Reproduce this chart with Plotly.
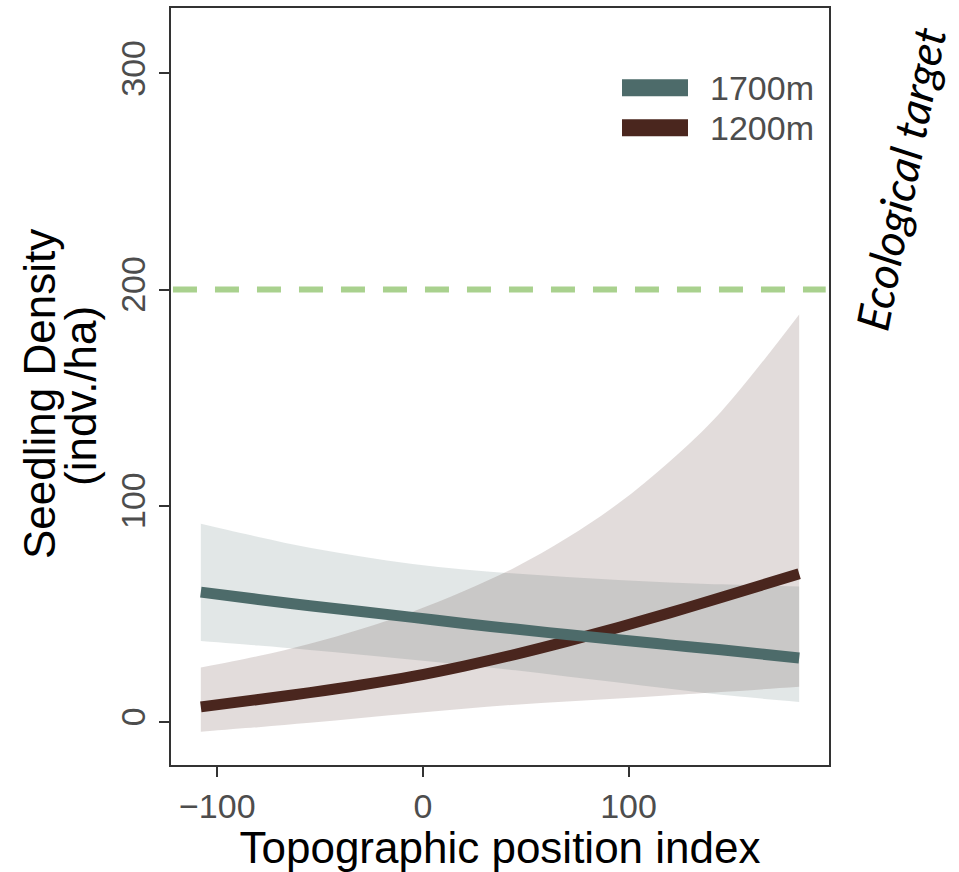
import plotly.graph_objects as go

# Topographic position index grid
tpi = [-108, -80, -55, -30, -5, 20, 45, 70, 95, 120, 145, 183]

# Predicted seedling density (indv./ha) with confidence bands
dens_1700 = [60.0, 56.6, 53.7, 51.0, 48.3, 45.5, 42.9, 40.4, 38.0, 35.6, 33.3, 29.5]
upper_1700 = [91.6, 85.5, 80.5, 76.5, 73.0, 70.5, 68.6, 67.0, 65.6, 64.5, 63.6, 62.6]
lower_1700 = [37.4, 35.3, 33.2, 31.0, 28.7, 26.3, 23.8, 21.0, 18.2, 15.3, 12.5, 9.2]

dens_1200 = [6.9, 10.3, 13.5, 17.0, 21.0, 25.8, 31.2, 37.2, 43.6, 50.4, 57.5, 68.5]
upper_1200 = [25.1, 30.4, 36.1, 42.9, 50.9, 60.5, 71.5, 85.0, 101.0, 120.5, 143.5, 188.5]
lower_1200 = [-4.6, -2.5, -0.5, 1.8, 4.0, 6.0, 7.9, 9.4, 10.8, 12.3, 13.8, 16.2]

target = 200
series_names = ["1700m", "1200m"]
x_ticks = [-100, 0, 100]
y_ticks = [0, 100, 200, 300]

TEAL = "#4d6b6a"
BROWN = "#4a261e"
TEAL_FILL = "rgba(77,107,106,0.16)"
BROWN_FILL = "rgba(74,38,30,0.16)"

fig = go.Figure()

# confidence ribbons
for lo, hi, fill in [(lower_1700, upper_1700, TEAL_FILL), (lower_1200, upper_1200, BROWN_FILL)]:
    fig.add_trace(go.Scatter(x=tpi, y=lo, mode="lines", line=dict(width=0, shape="spline"),
                             hoverinfo="skip", showlegend=False))
    fig.add_trace(go.Scatter(x=tpi, y=hi, mode="lines", line=dict(width=0, shape="spline"),
                             fill="tonexty", fillcolor=fill, hoverinfo="skip", showlegend=False))

# fitted curves
fig.add_trace(go.Scatter(x=tpi, y=dens_1200, mode="lines", name=series_names[1],
                         line=dict(color=BROWN, width=11, shape="spline"), showlegend=False))
fig.add_trace(go.Scatter(x=tpi, y=dens_1700, mode="lines", name=series_names[0],
                         line=dict(color=TEAL, width=11, shape="spline"), showlegend=False))

# ecological target line
fig.add_shape(type="line", xref="x domain", yref="y", x0=0.003, x1=0.995, y0=target, y1=target,
              line=dict(color="#a9d18e", width=6, dash="24px,18px"))

# legend drawn as swatches + labels
W, H = 959, 872
L, R, T, B = 171, 130, 6, 107
pw, ph = W - L - R, H - T - B

def px_x(v):
    return (v - L) / pw

def px_y(v):
    return 1 - (v - T) / ph

SANS = "Liberation Sans, Arial, Helvetica"

for i, (name, col) in enumerate(zip(series_names, [TEAL, BROWN])):
    yc = 86 + 40 * i
    fig.add_shape(type="line", xref="paper", yref="paper",
                  x0=px_x(622), x1=px_x(688), y0=px_y(yc), y1=px_y(yc),
                  line=dict(color=col, width=17))
    fig.add_annotation(xref="paper", yref="paper", x=px_x(708), y=px_y(yc),
                       text=name, showarrow=False, xanchor="left", yanchor="middle",
                       font=dict(family=SANS, size=34, color="#4d4d4d"))

# y-axis title, two lines
fig.add_annotation(xref="paper", yref="paper", x=px_x(40), y=px_y(393),
                   text="Seedling Density", showarrow=False, textangle=-90,
                   xanchor="center", yanchor="middle",
                   font=dict(family=SANS, size=44, color="black"))
fig.add_annotation(xref="paper", yref="paper", x=px_x(81), y=px_y(395),
                   text="(indv./ha)", showarrow=False, textangle=-90,
                   xanchor="center", yanchor="middle",
                   font=dict(family=SANS, size=44, color="black"))

fig.add_annotation(xref="paper", yref="paper", x=px_x(900), y=px_y(177),
                   text="<i>Ecological target</i>", showarrow=False, textangle=-79,
                   xanchor="center", yanchor="middle",
                   font=dict(family="Lato, Open Sans", size=45, color="black"))

axis_common = dict(showline=True, linecolor="#333333", linewidth=2, mirror=True,
                   ticks="outside", ticklen=10, tickwidth=2, tickcolor="#333333",
                   showgrid=False, zeroline=False,
                   tickfont=dict(family=SANS, size=34, color="#4d4d4d"))

fig.update_layout(
    width=W, height=H,
    margin=dict(l=L, r=R, t=T, b=B),
    plot_bgcolor="white", paper_bgcolor="white",
    showlegend=False,
    xaxis=dict(range=[-122.5, 197.5], tickvals=x_ticks,
               title=dict(text="Topographic position index", standoff=8,
                          font=dict(family=SANS, size=44, color="black")),
               **axis_common),
    yaxis=dict(range=[-20, 330.3], tickvals=y_ticks, tickangle=-90, **axis_common),
)

fig.write_html("out.html")
